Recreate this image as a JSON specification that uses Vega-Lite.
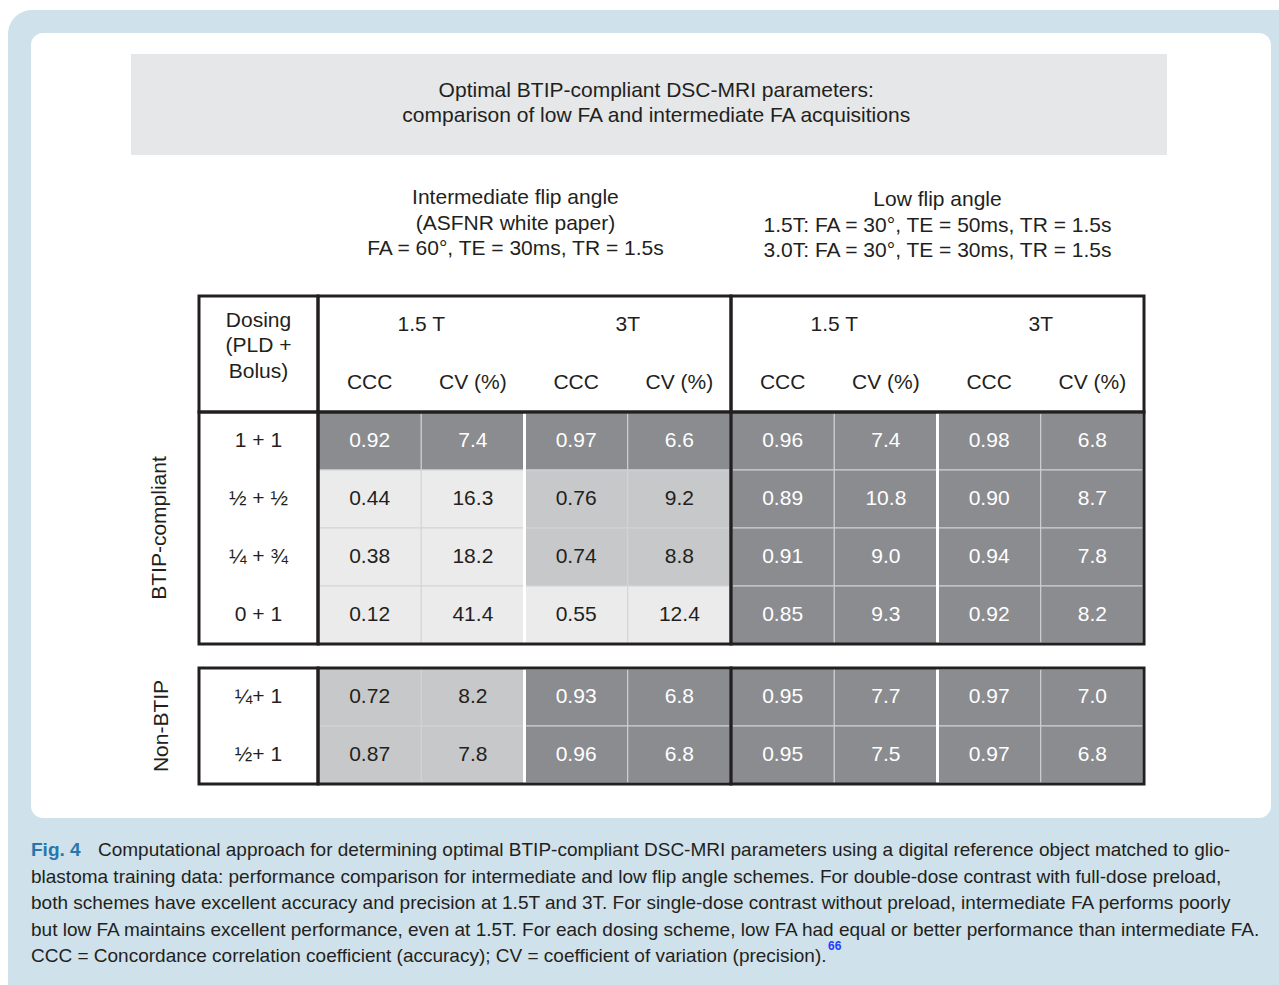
{
  "$schema": "https://vega.github.io/schema/vega-lite/v6.json",
  "width": 1240,
  "height": 785,
  "autosize": "none",
  "padding": {"left": 31, "top": 33, "right": 8, "bottom": 167},
  "background": "#ffffff",
  "datasets": {
    "banner": [
      {"heading": "Optimal BTIP-compliant DSC-MRI parameters:\ncomparison of low FA and intermediate FA acquisitions"}
    ],
    "schemes": [
      {"scheme": "Intermediate flip angle", "description": "Intermediate flip angle\n(ASFNR white paper)\nFA = 60°, TE = 30ms, TR = 1.5s"},
      {"scheme": "Low flip angle", "description": "Low flip angle\n1.5T: FA = 30°, TE = 50ms, TR = 1.5s\n3.0T: FA = 30°, TE = 30ms, TR = 1.5s"}
    ],
    "caption": [
      {"line": 1, "text": "Computational approach for determining optimal BTIP-compliant DSC-MRI parameters using a digital reference object matched to glio-"},
      {"line": 2, "text": "blastoma training data: performance comparison for intermediate and low flip angle schemes. For double-dose contrast with full-dose preload,"},
      {"line": 3, "text": "both schemes have excellent accuracy and precision at 1.5T and 3T. For single-dose contrast without preload, intermediate FA performs poorly"},
      {"line": 4, "text": "but low FA maintains excellent performance, even at 1.5T. For each dosing scheme, low FA had equal or better performance than intermediate FA."},
      {"line": 5, "text": "CCC = Concordance correlation coefficient (accuracy); CV = coefficient of variation (precision)."}
    ],
    "cells": [
      {"group": "BTIP-compliant", "dosing": "1 + 1", "scheme": "Intermediate flip angle", "setting": "Intermediate FA, 1.5 T", "strength": "1.5 T", "performance": "excellent", "CCC": 0.92, "CV": 7.4},
      {"group": "BTIP-compliant", "dosing": "1 + 1", "scheme": "Intermediate flip angle", "setting": "Intermediate FA, 3T", "strength": "3T", "performance": "excellent", "CCC": 0.97, "CV": 6.6},
      {"group": "BTIP-compliant", "dosing": "1 + 1", "scheme": "Low flip angle", "setting": "Low FA, 1.5 T", "strength": "1.5 T", "performance": "excellent", "CCC": 0.96, "CV": 7.4},
      {"group": "BTIP-compliant", "dosing": "1 + 1", "scheme": "Low flip angle", "setting": "Low FA, 3T", "strength": "3T", "performance": "excellent", "CCC": 0.98, "CV": 6.8},
      {"group": "BTIP-compliant", "dosing": "½ + ½", "scheme": "Intermediate flip angle", "setting": "Intermediate FA, 1.5 T", "strength": "1.5 T", "performance": "poor", "CCC": 0.44, "CV": 16.3},
      {"group": "BTIP-compliant", "dosing": "½ + ½", "scheme": "Intermediate flip angle", "setting": "Intermediate FA, 3T", "strength": "3T", "performance": "moderate", "CCC": 0.76, "CV": 9.2},
      {"group": "BTIP-compliant", "dosing": "½ + ½", "scheme": "Low flip angle", "setting": "Low FA, 1.5 T", "strength": "1.5 T", "performance": "excellent", "CCC": 0.89, "CV": 10.8},
      {"group": "BTIP-compliant", "dosing": "½ + ½", "scheme": "Low flip angle", "setting": "Low FA, 3T", "strength": "3T", "performance": "excellent", "CCC": 0.90, "CV": 8.7},
      {"group": "BTIP-compliant", "dosing": "¼ + ¾", "scheme": "Intermediate flip angle", "setting": "Intermediate FA, 1.5 T", "strength": "1.5 T", "performance": "poor", "CCC": 0.38, "CV": 18.2},
      {"group": "BTIP-compliant", "dosing": "¼ + ¾", "scheme": "Intermediate flip angle", "setting": "Intermediate FA, 3T", "strength": "3T", "performance": "moderate", "CCC": 0.74, "CV": 8.8},
      {"group": "BTIP-compliant", "dosing": "¼ + ¾", "scheme": "Low flip angle", "setting": "Low FA, 1.5 T", "strength": "1.5 T", "performance": "excellent", "CCC": 0.91, "CV": 9.0},
      {"group": "BTIP-compliant", "dosing": "¼ + ¾", "scheme": "Low flip angle", "setting": "Low FA, 3T", "strength": "3T", "performance": "excellent", "CCC": 0.94, "CV": 7.8},
      {"group": "BTIP-compliant", "dosing": "0 + 1", "scheme": "Intermediate flip angle", "setting": "Intermediate FA, 1.5 T", "strength": "1.5 T", "performance": "poor", "CCC": 0.12, "CV": 41.4},
      {"group": "BTIP-compliant", "dosing": "0 + 1", "scheme": "Intermediate flip angle", "setting": "Intermediate FA, 3T", "strength": "3T", "performance": "poor", "CCC": 0.55, "CV": 12.4},
      {"group": "BTIP-compliant", "dosing": "0 + 1", "scheme": "Low flip angle", "setting": "Low FA, 1.5 T", "strength": "1.5 T", "performance": "excellent", "CCC": 0.85, "CV": 9.3},
      {"group": "BTIP-compliant", "dosing": "0 + 1", "scheme": "Low flip angle", "setting": "Low FA, 3T", "strength": "3T", "performance": "excellent", "CCC": 0.92, "CV": 8.2},
      {"group": "Non-BTIP", "dosing": "¼+ 1", "scheme": "Intermediate flip angle", "setting": "Intermediate FA, 1.5 T", "strength": "1.5 T", "performance": "moderate", "CCC": 0.72, "CV": 8.2},
      {"group": "Non-BTIP", "dosing": "¼+ 1", "scheme": "Intermediate flip angle", "setting": "Intermediate FA, 3T", "strength": "3T", "performance": "excellent", "CCC": 0.93, "CV": 6.8},
      {"group": "Non-BTIP", "dosing": "¼+ 1", "scheme": "Low flip angle", "setting": "Low FA, 1.5 T", "strength": "1.5 T", "performance": "excellent", "CCC": 0.95, "CV": 7.7},
      {"group": "Non-BTIP", "dosing": "¼+ 1", "scheme": "Low flip angle", "setting": "Low FA, 3T", "strength": "3T", "performance": "excellent", "CCC": 0.97, "CV": 7.0},
      {"group": "Non-BTIP", "dosing": "½+ 1", "scheme": "Intermediate flip angle", "setting": "Intermediate FA, 1.5 T", "strength": "1.5 T", "performance": "moderate", "CCC": 0.87, "CV": 7.8},
      {"group": "Non-BTIP", "dosing": "½+ 1", "scheme": "Intermediate flip angle", "setting": "Intermediate FA, 3T", "strength": "3T", "performance": "excellent", "CCC": 0.96, "CV": 6.8},
      {"group": "Non-BTIP", "dosing": "½+ 1", "scheme": "Low flip angle", "setting": "Low FA, 1.5 T", "strength": "1.5 T", "performance": "excellent", "CCC": 0.95, "CV": 7.5},
      {"group": "Non-BTIP", "dosing": "½+ 1", "scheme": "Low flip angle", "setting": "Low FA, 3T", "strength": "3T", "performance": "excellent", "CCC": 0.97, "CV": 6.8}
    ]
  },
  "resolve": {"scale": {"x": "independent", "y": "independent", "xOffset": "independent", "color": "independent", "fill": "independent"}},
  "layer": [
    {
      "data": {"name": "banner"},
      "mark": {"type": "rect", "fill": "#cfe1eb", "cornerRadius": 24},
      "encoding": {
        "x": {"datum": "figure frame", "type": "nominal", "axis": null, "scale": {"type": "band", "domain": ["figure frame"], "range": [-23, 1290], "paddingInner": 0, "paddingOuter": 0}},
        "y": {"datum": "figure frame", "type": "nominal", "axis": null, "scale": {"type": "band", "domain": ["figure frame"], "range": [-23, 980], "paddingInner": 0, "paddingOuter": 0}}
      }
    },
    {
      "data": {"name": "banner"},
      "mark": {"type": "rect", "fill": "#ffffff", "cornerRadius": 12},
      "encoding": {
        "x": {"datum": "figure panel", "type": "nominal", "axis": null, "scale": {"type": "band", "domain": ["figure panel"], "range": [0, 1240], "paddingInner": 0, "paddingOuter": 0}},
        "y": {"datum": "figure panel", "type": "nominal", "axis": null, "scale": {"type": "band", "domain": ["figure panel"], "range": [0, 785], "paddingInner": 0, "paddingOuter": 0}}
      }
    },
    {
      "data": {"name": "banner"},
      "mark": {"type": "rect", "fill": "#e6e7e8"},
      "encoding": {
        "x": {"field": "heading", "type": "nominal", "axis": null, "scale": {"type": "band", "range": [100, 1136], "paddingInner": 0, "paddingOuter": 0}},
        "y": {"field": "heading", "type": "nominal", "axis": null, "scale": {"type": "band", "range": [21, 122], "paddingInner": 0, "paddingOuter": 0}}
      }
    },
    {
      "data": {"name": "banner"},
      "mark": {"type": "text", "font": "Liberation Sans", "fontSize": 21, "lineBreak": "\n", "lineHeight": 25, "color": "#231f20", "baseline": "middle", "align": "center"},
      "encoding": {
        "x": {"field": "heading", "type": "nominal", "axis": null, "bandPosition": 0.507, "scale": {"type": "band", "range": [100, 1136], "paddingInner": 0, "paddingOuter": 0}},
        "y": {"field": "heading", "type": "nominal", "axis": null, "bandPosition": 0.366, "scale": {"type": "band", "range": [21, 122], "paddingInner": 0, "paddingOuter": 0}},
        "text": {"field": "heading"}
      }
    },
    {
      "data": {"name": "schemes"},
      "transform": [{"filter": {"field": "scheme", "equal": "Intermediate flip angle"}}],
      "mark": {"type": "text", "font": "Liberation Sans", "fontSize": 21, "lineBreak": "\n", "lineHeight": 25.5, "color": "#231f20", "baseline": "middle", "align": "center"},
      "encoding": {
        "x": {"field": "scheme", "type": "nominal", "axis": null, "bandPosition": 0.478, "scale": {"type": "band", "domain": ["Intermediate flip angle", "Low flip angle"], "range": [287, 1113], "paddingInner": 0, "paddingOuter": 0}},
        "y": {"datum": "scheme description", "type": "nominal", "axis": null, "scale": {"type": "band", "domain": ["scheme description"], "range": [145, 185], "paddingInner": 0, "paddingOuter": 0}},
        "text": {"field": "description"}
      }
    },
    {
      "data": {"name": "schemes"},
      "transform": [{"filter": {"field": "scheme", "equal": "Low flip angle"}}],
      "mark": {"type": "text", "font": "Liberation Sans", "fontSize": 21, "lineBreak": "\n", "lineHeight": 25.5, "color": "#231f20", "baseline": "middle", "align": "center"},
      "encoding": {
        "x": {"field": "scheme", "type": "nominal", "axis": null, "scale": {"type": "band", "domain": ["Intermediate flip angle", "Low flip angle"], "range": [287, 1113], "paddingInner": 0, "paddingOuter": 0}},
        "y": {"datum": "scheme description", "type": "nominal", "axis": null, "scale": {"type": "band", "domain": ["scheme description"], "range": [147, 187], "paddingInner": 0, "paddingOuter": 0}},
        "text": {"field": "description"}
      }
    },
    {
      "data": {"name": "cells"},
      "transform": [{"filter": {"field": "group", "equal": "BTIP-compliant"}}, {"fold": ["CCC", "CV"], "as": ["metric", "value"]}],
      "mark": {"type": "rect", "stroke": "#d3d3d3", "strokeWidth": 1},
      "encoding": {
        "x": {"field": "setting", "type": "nominal", "axis": null, "scale": {"type": "band", "domain": ["Intermediate FA, 1.5 T", "Intermediate FA, 3T", "Low FA, 1.5 T", "Low FA, 3T"], "range": [287, 1113], "paddingInner": 0, "paddingOuter": 0}},
        "xOffset": {"field": "metric", "type": "nominal", "scale": {"type": "band", "domain": ["CCC", "CV"], "paddingInner": 0, "paddingOuter": 0}},
        "y": {"field": "dosing", "type": "nominal", "axis": null, "scale": {"type": "band", "domain": ["strength header", "metric header", "1 + 1", "½ + ½", "¼ + ¾", "0 + 1"], "range": [263, 611], "paddingInner": 0, "paddingOuter": 0}},
        "fill": {"field": "performance", "type": "nominal", "legend": null, "scale": {"domain": ["excellent", "moderate", "poor"], "range": ["#8b8c90", "#c7c8ca", "#ebebec"]}}
      }
    },
    {
      "data": {"name": "cells"},
      "transform": [{"filter": {"field": "group", "equal": "Non-BTIP"}}, {"fold": ["CCC", "CV"], "as": ["metric", "value"]}],
      "mark": {"type": "rect", "stroke": "#d3d3d3", "strokeWidth": 1},
      "encoding": {
        "x": {"field": "setting", "type": "nominal", "axis": null, "scale": {"type": "band", "domain": ["Intermediate FA, 1.5 T", "Intermediate FA, 3T", "Low FA, 1.5 T", "Low FA, 3T"], "range": [287, 1113], "paddingInner": 0, "paddingOuter": 0}},
        "xOffset": {"field": "metric", "type": "nominal", "scale": {"type": "band", "domain": ["CCC", "CV"], "paddingInner": 0, "paddingOuter": 0}},
        "y": {"field": "dosing", "type": "nominal", "axis": null, "scale": {"type": "band", "domain": ["¼+ 1", "½+ 1"], "range": [635, 751], "paddingInner": 0, "paddingOuter": 0}},
        "fill": {"field": "performance", "type": "nominal", "legend": null, "scale": {"domain": ["excellent", "moderate", "poor"], "range": ["#8b8c90", "#c7c8ca", "#ebebec"]}}
      }
    },
    {
      "data": {"name": "cells"},
      "transform": [{"filter": {"field": "group", "equal": "BTIP-compliant"}}, {"aggregate": [{"op": "count", "as": "n"}], "groupby": ["setting", "strength"]}, {"filter": {"field": "strength", "equal": "3T"}}],
      "mark": {"type": "rect", "filled": false, "stroke": "#ffffff", "strokeWidth": 3},
      "encoding": {
        "x": {"field": "setting", "type": "nominal", "axis": null, "scale": {"type": "band", "domain": ["Intermediate FA, 1.5 T", "Intermediate FA, 3T", "Low FA, 1.5 T", "Low FA, 3T"], "range": [287, 1113], "paddingInner": 0, "paddingOuter": 0}},
        "y": {"datum": "BTIP-compliant", "type": "nominal", "axis": null, "scale": {"type": "band", "domain": ["BTIP-compliant"], "range": [379, 611], "paddingInner": 0, "paddingOuter": 0}}
      }
    },
    {
      "data": {"name": "cells"},
      "transform": [{"filter": {"field": "group", "equal": "Non-BTIP"}}, {"aggregate": [{"op": "count", "as": "n"}], "groupby": ["setting", "strength"]}, {"filter": {"field": "strength", "equal": "3T"}}],
      "mark": {"type": "rect", "filled": false, "stroke": "#ffffff", "strokeWidth": 3},
      "encoding": {
        "x": {"field": "setting", "type": "nominal", "axis": null, "scale": {"type": "band", "domain": ["Intermediate FA, 1.5 T", "Intermediate FA, 3T", "Low FA, 1.5 T", "Low FA, 3T"], "range": [287, 1113], "paddingInner": 0, "paddingOuter": 0}},
        "y": {"datum": "Non-BTIP", "type": "nominal", "axis": null, "scale": {"type": "band", "domain": ["Non-BTIP"], "range": [635, 751], "paddingInner": 0, "paddingOuter": 0}}
      }
    },
    {
      "data": {"name": "cells"},
      "transform": [{"aggregate": [{"op": "count", "as": "n"}], "groupby": ["scheme"]}],
      "mark": {"type": "rect", "filled": false, "stroke": "#231f20", "strokeWidth": 3},
      "encoding": {
        "x": {"field": "scheme", "type": "nominal", "axis": null, "scale": {"type": "band", "domain": ["Intermediate flip angle", "Low flip angle"], "range": [287, 1113], "paddingInner": 0, "paddingOuter": 0}},
        "y": {"datum": "header", "type": "nominal", "axis": null, "scale": {"type": "band", "domain": ["header"], "range": [263, 379], "paddingInner": 0, "paddingOuter": 0}}
      }
    },
    {
      "data": {"name": "cells"},
      "transform": [{"filter": {"field": "group", "equal": "BTIP-compliant"}}, {"aggregate": [{"op": "count", "as": "n"}], "groupby": ["group", "scheme"]}],
      "mark": {"type": "rect", "filled": false, "stroke": "#231f20", "strokeWidth": 3},
      "encoding": {
        "x": {"field": "scheme", "type": "nominal", "axis": null, "scale": {"type": "band", "domain": ["Intermediate flip angle", "Low flip angle"], "range": [287, 1113], "paddingInner": 0, "paddingOuter": 0}},
        "y": {"field": "group", "type": "nominal", "axis": null, "scale": {"type": "band", "domain": ["BTIP-compliant"], "range": [379, 611], "paddingInner": 0, "paddingOuter": 0}}
      }
    },
    {
      "data": {"name": "cells"},
      "transform": [{"filter": {"field": "group", "equal": "Non-BTIP"}}, {"aggregate": [{"op": "count", "as": "n"}], "groupby": ["group", "scheme"]}],
      "mark": {"type": "rect", "filled": false, "stroke": "#231f20", "strokeWidth": 3},
      "encoding": {
        "x": {"field": "scheme", "type": "nominal", "axis": null, "scale": {"type": "band", "domain": ["Intermediate flip angle", "Low flip angle"], "range": [287, 1113], "paddingInner": 0, "paddingOuter": 0}},
        "y": {"field": "group", "type": "nominal", "axis": null, "scale": {"type": "band", "domain": ["Non-BTIP"], "range": [635, 751], "paddingInner": 0, "paddingOuter": 0}}
      }
    },
    {
      "data": {"name": "cells"},
      "transform": [{"aggregate": [{"op": "count", "as": "n"}]}],
      "mark": {"type": "rect", "filled": false, "stroke": "#231f20", "strokeWidth": 3},
      "encoding": {
        "x": {"datum": "Dosing", "type": "nominal", "axis": null, "scale": {"type": "band", "domain": ["Dosing"], "range": [168, 287], "paddingInner": 0, "paddingOuter": 0}},
        "y": {"datum": "header", "type": "nominal", "axis": null, "scale": {"type": "band", "domain": ["header"], "range": [263, 379], "paddingInner": 0, "paddingOuter": 0}}
      }
    },
    {
      "data": {"name": "cells"},
      "transform": [{"filter": {"field": "group", "equal": "BTIP-compliant"}}, {"aggregate": [{"op": "count", "as": "n"}], "groupby": ["group"]}],
      "mark": {"type": "rect", "filled": false, "stroke": "#231f20", "strokeWidth": 3},
      "encoding": {
        "x": {"datum": "Dosing", "type": "nominal", "axis": null, "scale": {"type": "band", "domain": ["Dosing"], "range": [168, 287], "paddingInner": 0, "paddingOuter": 0}},
        "y": {"field": "group", "type": "nominal", "axis": null, "scale": {"type": "band", "domain": ["BTIP-compliant"], "range": [379, 611], "paddingInner": 0, "paddingOuter": 0}}
      }
    },
    {
      "data": {"name": "cells"},
      "transform": [{"filter": {"field": "group", "equal": "Non-BTIP"}}, {"aggregate": [{"op": "count", "as": "n"}], "groupby": ["group"]}],
      "mark": {"type": "rect", "filled": false, "stroke": "#231f20", "strokeWidth": 3},
      "encoding": {
        "x": {"datum": "Dosing", "type": "nominal", "axis": null, "scale": {"type": "band", "domain": ["Dosing"], "range": [168, 287], "paddingInner": 0, "paddingOuter": 0}},
        "y": {"field": "group", "type": "nominal", "axis": null, "scale": {"type": "band", "domain": ["Non-BTIP"], "range": [635, 751], "paddingInner": 0, "paddingOuter": 0}}
      }
    },
    {
      "data": {"name": "cells"},
      "transform": [{"filter": {"field": "group", "equal": "BTIP-compliant"}}],
      "mark": {"type": "text", "font": "Liberation Sans", "fontSize": 21, "baseline": "middle", "align": "center"},
      "encoding": {
        "x": {"field": "setting", "type": "nominal", "axis": null, "bandPosition": 0.25, "scale": {"type": "band", "domain": ["Intermediate FA, 1.5 T", "Intermediate FA, 3T", "Low FA, 1.5 T", "Low FA, 3T"], "range": [287, 1113], "paddingInner": 0, "paddingOuter": 0}},
        "y": {"field": "dosing", "type": "nominal", "axis": null, "scale": {"type": "band", "domain": ["strength header", "metric header", "1 + 1", "½ + ½", "¼ + ¾", "0 + 1"], "range": [263, 611], "paddingInner": 0, "paddingOuter": 0}},
        "text": {"field": "CCC", "type": "quantitative", "format": ".2f"},
        "color": {"field": "performance", "type": "nominal", "legend": null, "scale": {"domain": ["excellent", "moderate", "poor"], "range": ["#ffffff", "#231f20", "#231f20"]}}
      }
    },
    {
      "data": {"name": "cells"},
      "transform": [{"filter": {"field": "group", "equal": "BTIP-compliant"}}],
      "mark": {"type": "text", "font": "Liberation Sans", "fontSize": 21, "baseline": "middle", "align": "center"},
      "encoding": {
        "x": {"field": "setting", "type": "nominal", "axis": null, "bandPosition": 0.75, "scale": {"type": "band", "domain": ["Intermediate FA, 1.5 T", "Intermediate FA, 3T", "Low FA, 1.5 T", "Low FA, 3T"], "range": [287, 1113], "paddingInner": 0, "paddingOuter": 0}},
        "y": {"field": "dosing", "type": "nominal", "axis": null, "scale": {"type": "band", "domain": ["strength header", "metric header", "1 + 1", "½ + ½", "¼ + ¾", "0 + 1"], "range": [263, 611], "paddingInner": 0, "paddingOuter": 0}},
        "text": {"field": "CV", "type": "quantitative", "format": ".1f"},
        "color": {"field": "performance", "type": "nominal", "legend": null, "scale": {"domain": ["excellent", "moderate", "poor"], "range": ["#ffffff", "#231f20", "#231f20"]}}
      }
    },
    {
      "data": {"name": "cells"},
      "transform": [{"filter": {"field": "group", "equal": "Non-BTIP"}}],
      "mark": {"type": "text", "font": "Liberation Sans", "fontSize": 21, "baseline": "middle", "align": "center"},
      "encoding": {
        "x": {"field": "setting", "type": "nominal", "axis": null, "bandPosition": 0.25, "scale": {"type": "band", "domain": ["Intermediate FA, 1.5 T", "Intermediate FA, 3T", "Low FA, 1.5 T", "Low FA, 3T"], "range": [287, 1113], "paddingInner": 0, "paddingOuter": 0}},
        "y": {"field": "dosing", "type": "nominal", "axis": null, "scale": {"type": "band", "domain": ["¼+ 1", "½+ 1"], "range": [635, 751], "paddingInner": 0, "paddingOuter": 0}},
        "text": {"field": "CCC", "type": "quantitative", "format": ".2f"},
        "color": {"field": "performance", "type": "nominal", "legend": null, "scale": {"domain": ["excellent", "moderate", "poor"], "range": ["#ffffff", "#231f20", "#231f20"]}}
      }
    },
    {
      "data": {"name": "cells"},
      "transform": [{"filter": {"field": "group", "equal": "Non-BTIP"}}],
      "mark": {"type": "text", "font": "Liberation Sans", "fontSize": 21, "baseline": "middle", "align": "center"},
      "encoding": {
        "x": {"field": "setting", "type": "nominal", "axis": null, "bandPosition": 0.75, "scale": {"type": "band", "domain": ["Intermediate FA, 1.5 T", "Intermediate FA, 3T", "Low FA, 1.5 T", "Low FA, 3T"], "range": [287, 1113], "paddingInner": 0, "paddingOuter": 0}},
        "y": {"field": "dosing", "type": "nominal", "axis": null, "scale": {"type": "band", "domain": ["¼+ 1", "½+ 1"], "range": [635, 751], "paddingInner": 0, "paddingOuter": 0}},
        "text": {"field": "CV", "type": "quantitative", "format": ".1f"},
        "color": {"field": "performance", "type": "nominal", "legend": null, "scale": {"domain": ["excellent", "moderate", "poor"], "range": ["#ffffff", "#231f20", "#231f20"]}}
      }
    },
    {
      "data": {"name": "cells"},
      "transform": [{"aggregate": [{"op": "count", "as": "n"}], "groupby": ["setting", "strength"]}],
      "mark": {"type": "text", "font": "Liberation Sans", "fontSize": 21, "baseline": "middle", "align": "center", "color": "#231f20"},
      "encoding": {
        "x": {"field": "setting", "type": "nominal", "axis": null, "scale": {"type": "band", "domain": ["Intermediate FA, 1.5 T", "Intermediate FA, 3T", "Low FA, 1.5 T", "Low FA, 3T"], "range": [287, 1113], "paddingInner": 0, "paddingOuter": 0}},
        "y": {"datum": "strength header", "type": "nominal", "axis": null, "scale": {"type": "band", "domain": ["strength header", "metric header", "1 + 1", "½ + ½", "¼ + ¾", "0 + 1"], "range": [263, 611], "paddingInner": 0, "paddingOuter": 0}},
        "text": {"field": "strength"}
      }
    },
    {
      "data": {"name": "cells"},
      "transform": [{"aggregate": [{"op": "count", "as": "n"}], "groupby": ["setting"]}],
      "mark": {"type": "text", "font": "Liberation Sans", "fontSize": 21, "baseline": "middle", "align": "center", "color": "#231f20"},
      "encoding": {
        "x": {"field": "setting", "type": "nominal", "axis": null, "bandPosition": 0.25, "scale": {"type": "band", "domain": ["Intermediate FA, 1.5 T", "Intermediate FA, 3T", "Low FA, 1.5 T", "Low FA, 3T"], "range": [287, 1113], "paddingInner": 0, "paddingOuter": 0}},
        "y": {"datum": "metric header", "type": "nominal", "axis": null, "scale": {"type": "band", "domain": ["strength header", "metric header", "1 + 1", "½ + ½", "¼ + ¾", "0 + 1"], "range": [263, 611], "paddingInner": 0, "paddingOuter": 0}},
        "text": {"value": "CCC"}
      }
    },
    {
      "data": {"name": "cells"},
      "transform": [{"aggregate": [{"op": "count", "as": "n"}], "groupby": ["setting"]}],
      "mark": {"type": "text", "font": "Liberation Sans", "fontSize": 21, "baseline": "middle", "align": "center", "color": "#231f20"},
      "encoding": {
        "x": {"field": "setting", "type": "nominal", "axis": null, "bandPosition": 0.75, "scale": {"type": "band", "domain": ["Intermediate FA, 1.5 T", "Intermediate FA, 3T", "Low FA, 1.5 T", "Low FA, 3T"], "range": [287, 1113], "paddingInner": 0, "paddingOuter": 0}},
        "y": {"datum": "metric header", "type": "nominal", "axis": null, "scale": {"type": "band", "domain": ["strength header", "metric header", "1 + 1", "½ + ½", "¼ + ¾", "0 + 1"], "range": [263, 611], "paddingInner": 0, "paddingOuter": 0}},
        "text": {"value": "CV (%)"}
      }
    },
    {
      "data": {"name": "cells"},
      "transform": [{"filter": {"field": "group", "equal": "BTIP-compliant"}}, {"aggregate": [{"op": "count", "as": "n"}], "groupby": ["dosing"]}],
      "mark": {"type": "text", "font": "Liberation Sans", "fontSize": 21, "baseline": "middle", "align": "center", "color": "#231f20"},
      "encoding": {
        "x": {"datum": "Dosing", "type": "nominal", "axis": null, "scale": {"type": "band", "domain": ["Dosing"], "range": [168, 287], "paddingInner": 0, "paddingOuter": 0}},
        "y": {"field": "dosing", "type": "nominal", "axis": null, "scale": {"type": "band", "domain": ["strength header", "metric header", "1 + 1", "½ + ½", "¼ + ¾", "0 + 1"], "range": [263, 611], "paddingInner": 0, "paddingOuter": 0}},
        "text": {"field": "dosing"}
      }
    },
    {
      "data": {"name": "cells"},
      "transform": [{"filter": {"field": "group", "equal": "Non-BTIP"}}, {"aggregate": [{"op": "count", "as": "n"}], "groupby": ["dosing"]}],
      "mark": {"type": "text", "font": "Liberation Sans", "fontSize": 21, "baseline": "middle", "align": "center", "color": "#231f20"},
      "encoding": {
        "x": {"datum": "Dosing", "type": "nominal", "axis": null, "scale": {"type": "band", "domain": ["Dosing"], "range": [168, 287], "paddingInner": 0, "paddingOuter": 0}},
        "y": {"field": "dosing", "type": "nominal", "axis": null, "scale": {"type": "band", "domain": ["¼+ 1", "½+ 1"], "range": [635, 751], "paddingInner": 0, "paddingOuter": 0}},
        "text": {"field": "dosing"}
      }
    },
    {
      "data": {"name": "cells"},
      "transform": [{"aggregate": [{"op": "count", "as": "n"}]}],
      "mark": {"type": "text", "font": "Liberation Sans", "fontSize": 21, "baseline": "middle", "align": "center", "color": "#231f20", "lineBreak": "\n", "lineHeight": 25.5},
      "encoding": {
        "x": {"datum": "Dosing", "type": "nominal", "axis": null, "scale": {"type": "band", "domain": ["Dosing"], "range": [168, 287], "paddingInner": 0, "paddingOuter": 0}},
        "y": {"datum": "strength header", "type": "nominal", "axis": null, "bandPosition": 0.43, "scale": {"type": "band", "domain": ["strength header", "metric header", "1 + 1", "½ + ½", "¼ + ¾", "0 + 1"], "range": [263, 611], "paddingInner": 0, "paddingOuter": 0}},
        "text": {"value": "Dosing\n(PLD +\nBolus)"}
      }
    },
    {
      "data": {"name": "cells"},
      "transform": [{"filter": {"field": "group", "equal": "BTIP-compliant"}}, {"aggregate": [{"op": "count", "as": "n"}], "groupby": ["group"]}],
      "mark": {"type": "text", "font": "Liberation Sans", "fontSize": 21, "baseline": "middle", "align": "center", "angle": 270, "color": "#231f20"},
      "encoding": {
        "x": {"datum": "group label", "type": "nominal", "axis": null, "scale": {"type": "band", "domain": ["group label"], "range": [114, 144], "paddingInner": 0, "paddingOuter": 0}},
        "y": {"field": "group", "type": "nominal", "axis": null, "scale": {"type": "band", "domain": ["BTIP-compliant"], "range": [379, 611], "paddingInner": 0, "paddingOuter": 0}},
        "text": {"field": "group"}
      }
    },
    {
      "data": {"name": "cells"},
      "transform": [{"filter": {"field": "group", "equal": "Non-BTIP"}}, {"aggregate": [{"op": "count", "as": "n"}], "groupby": ["group"]}],
      "mark": {"type": "text", "font": "Liberation Sans", "fontSize": 21, "baseline": "middle", "align": "center", "angle": 270, "color": "#231f20"},
      "encoding": {
        "x": {"datum": "group label", "type": "nominal", "axis": null, "scale": {"type": "band", "domain": ["group label"], "range": [116, 146], "paddingInner": 0, "paddingOuter": 0}},
        "y": {"field": "group", "type": "nominal", "axis": null, "scale": {"type": "band", "domain": ["Non-BTIP"], "range": [635, 751], "paddingInner": 0, "paddingOuter": 0}},
        "text": {"field": "group"}
      }
    },
    {
      "data": {"name": "caption"},
      "transform": [{"filter": {"field": "line", "equal": 1}}],
      "mark": {"type": "text", "font": "Liberation Sans", "fontSize": 19, "fontWeight": "bold", "baseline": "middle", "align": "left", "color": "#2677ad"},
      "encoding": {
        "x": {"datum": "figure number", "type": "nominal", "axis": null, "bandPosition": 0, "scale": {"type": "band", "domain": ["figure number"], "range": [0, 60], "paddingInner": 0, "paddingOuter": 0}},
        "y": {"field": "line", "type": "ordinal", "axis": null, "scale": {"type": "band", "domain": [1, 2, 3, 4, 5], "range": [803.75, 936.25], "paddingInner": 0, "paddingOuter": 0}},
        "text": {"value": "Fig. 4"}
      }
    },
    {
      "data": {"name": "caption"},
      "transform": [{"filter": {"field": "line", "equal": 1}}],
      "mark": {"type": "text", "font": "Liberation Sans", "fontSize": 19, "baseline": "middle", "align": "left", "color": "#231f20"},
      "encoding": {
        "x": {"datum": "caption text", "type": "nominal", "axis": null, "bandPosition": 0, "scale": {"type": "band", "domain": ["caption text"], "range": [67, 1240], "paddingInner": 0, "paddingOuter": 0}},
        "y": {"field": "line", "type": "ordinal", "axis": null, "scale": {"type": "band", "domain": [1, 2, 3, 4, 5], "range": [803.75, 936.25], "paddingInner": 0, "paddingOuter": 0}},
        "text": {"field": "text"}
      }
    },
    {
      "data": {"name": "caption"},
      "transform": [{"filter": {"field": "line", "gt": 1}}],
      "mark": {"type": "text", "font": "Liberation Sans", "fontSize": 19, "baseline": "middle", "align": "left", "color": "#231f20"},
      "encoding": {
        "x": {"datum": "caption text", "type": "nominal", "axis": null, "bandPosition": 0, "scale": {"type": "band", "domain": ["caption text"], "range": [0, 1240], "paddingInner": 0, "paddingOuter": 0}},
        "y": {"field": "line", "type": "ordinal", "axis": null, "scale": {"type": "band", "domain": [1, 2, 3, 4, 5], "range": [803.75, 936.25], "paddingInner": 0, "paddingOuter": 0}},
        "text": {"field": "text"}
      }
    },
    {
      "data": {"name": "caption"},
      "transform": [{"filter": {"field": "line", "equal": 5}}],
      "mark": {"type": "text", "font": "Liberation Sans", "fontSize": 12, "fontWeight": "bold", "baseline": "middle", "align": "left", "color": "#1f3cff"},
      "encoding": {
        "x": {"datum": "reference", "type": "nominal", "axis": null, "bandPosition": 0, "scale": {"type": "band", "domain": ["reference"], "range": [797, 825], "paddingInner": 0, "paddingOuter": 0}},
        "y": {"field": "line", "type": "ordinal", "axis": null, "bandPosition": 0.12, "scale": {"type": "band", "domain": [1, 2, 3, 4, 5], "range": [803.75, 936.25], "paddingInner": 0, "paddingOuter": 0}},
        "text": {"value": "66"}
      }
    }
  ],
  "config": {
    "view": {"stroke": null, "fill": null},
    "text": {"font": "Liberation Sans"}
  }
}
